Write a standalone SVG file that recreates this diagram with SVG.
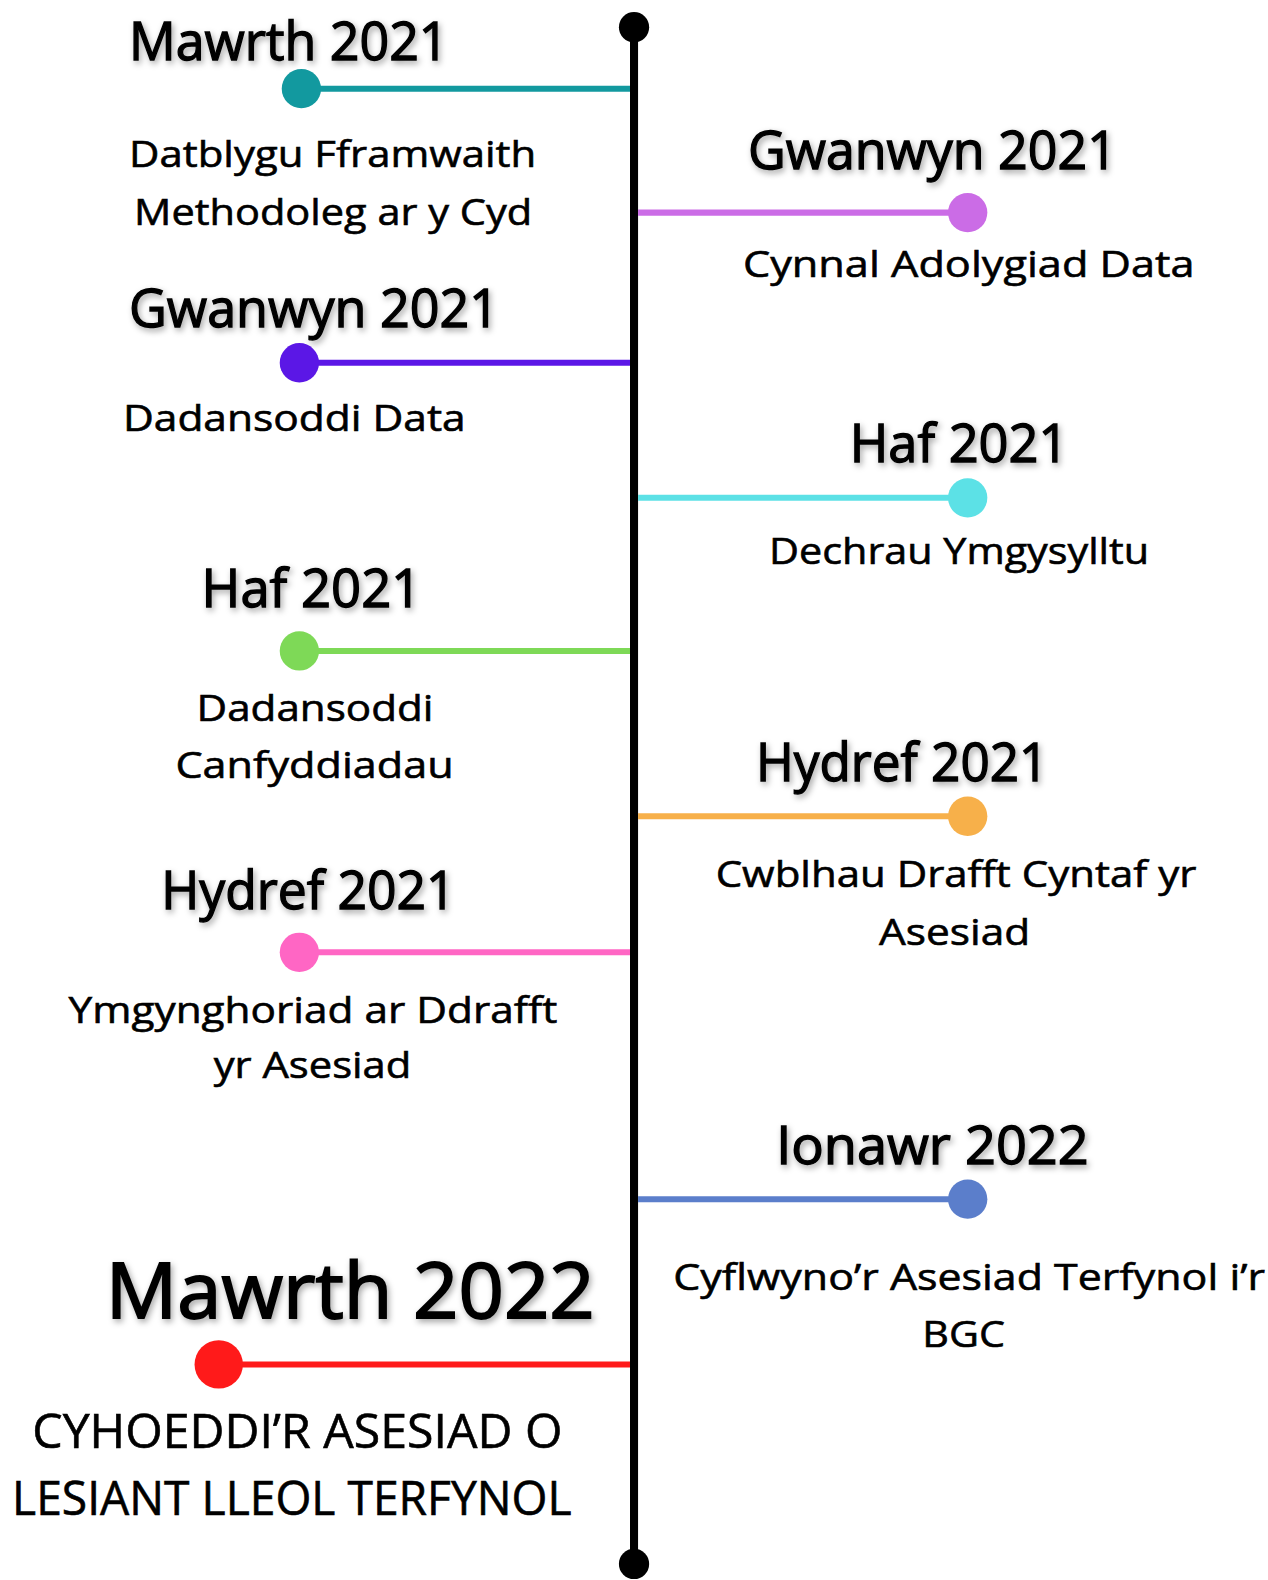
<svg xmlns="http://www.w3.org/2000/svg" width="1268" height="1580" viewBox="0 0 1268 1580">
<defs>
<filter id="sh" x="-10%" y="-30%" width="120%" height="160%">
<feDropShadow dx="2" dy="3" stdDeviation="3" flood-color="#000" flood-opacity="0.35"/>
</filter>
<style>
.h{font-family:"Open Sans","Noto Sans",sans-serif;font-weight:400;font-size:52px;fill:#000;stroke:#000;stroke-width:1.3px;filter:url(#sh)}
.hb{font-size:76px;stroke-width:1.8px}
.d{font-family:"Open Sans","Noto Sans",sans-serif;font-weight:400;font-size:37px;fill:#000;stroke:#000;stroke-width:0.6px}
.c{font-size:48px}
.ln{stroke-width:6;fill:none}
</style>
</defs>
<rect width="1268" height="1580" fill="#fff"/>
<g transform="scale(1.008,1.0077)">
<g id="connectors">
<line x1="629" y1="27" x2="629" y2="1552" stroke="#000" stroke-width="8"/>
<line class="ln" x1="299" y1="88" x2="625" y2="88" stroke="#12999f"/>
<line class="ln" x1="297" y1="360" x2="625" y2="360" stroke="#5b17e6"/>
<line class="ln" x1="297" y1="646" x2="625" y2="646" stroke="#7ed957"/>
<line class="ln" x1="297" y1="945" x2="625" y2="945" stroke="#ff66c4"/>
<line class="ln" x1="217" y1="1354" x2="625" y2="1354" stroke="#ff1a1a" stroke-width="8"/>
<line class="ln" x1="633" y1="211" x2="960" y2="211" stroke="#cb6ce6"/>
<line class="ln" x1="633" y1="494" x2="960" y2="494" stroke="#5ce1e6"/>
<line class="ln" x1="633" y1="810" x2="960" y2="810" stroke="#f7b04a"/>
<line class="ln" x1="633" y1="1190" x2="960" y2="1190" stroke="#5b7ecb"/>
</g>
<g id="start"><circle cx="629" cy="27" r="15" fill="#000"/></g>
<g id="end"><circle cx="629" cy="1552" r="15" fill="#000"/></g>
<g id="mawrth2021">
<circle cx="299" cy="88" r="19.5" fill="#12999f"/>
<text class="h" x="128" y="60" textLength="317" lengthAdjust="spacingAndGlyphs">Mawrth 2021</text>
<text class="d" x="128" y="166" textLength="404" lengthAdjust="spacingAndGlyphs">Datblygu Fframwaith</text>
<text class="d" x="133" y="223" textLength="395" lengthAdjust="spacingAndGlyphs">Methodoleg ar y Cyd</text>
</g>
<g id="gwanwyn2021-right">
<circle cx="960" cy="211" r="19.5" fill="#cb6ce6"/>
<text class="h" x="742" y="168" textLength="366" lengthAdjust="spacingAndGlyphs">Gwanwyn 2021</text>
<text class="d" x="737" y="275" textLength="448" lengthAdjust="spacingAndGlyphs">Cynnal Adolygiad Data</text>
</g>
<g id="gwanwyn2021-left">
<circle cx="297" cy="360" r="19.5" fill="#5b17e6"/>
<text class="h" x="128" y="325" textLength="367" lengthAdjust="spacingAndGlyphs">Gwanwyn 2021</text>
<text class="d" x="122" y="428" textLength="340" lengthAdjust="spacingAndGlyphs">Dadansoddi Data</text>
</g>
<g id="haf2021-right">
<circle cx="960" cy="494" r="19.5" fill="#5ce1e6"/>
<text class="h" x="843" y="458" textLength="217" lengthAdjust="spacingAndGlyphs">Haf 2021</text>
<text class="d" x="763" y="560" textLength="377" lengthAdjust="spacingAndGlyphs">Dechrau Ymgysylltu</text>
</g>
<g id="haf2021-left">
<circle cx="297" cy="646" r="19.5" fill="#7ed957"/>
<text class="h" x="200" y="602" textLength="218" lengthAdjust="spacingAndGlyphs">Haf 2021</text>
<text class="d" x="195" y="715" textLength="235" lengthAdjust="spacingAndGlyphs">Dadansoddi</text>
<text class="d" x="174" y="772" textLength="276" lengthAdjust="spacingAndGlyphs">Canfyddiadau</text>
</g>
<g id="hydref2021-right">
<circle cx="960" cy="810" r="19.5" fill="#f7b04a"/>
<text class="h" x="750" y="775" textLength="290" lengthAdjust="spacingAndGlyphs">Hydref 2021</text>
<text class="d" x="710" y="880" textLength="477" lengthAdjust="spacingAndGlyphs">Cwblhau Drafft Cyntaf yr</text>
<text class="d" x="872" y="938" textLength="150" lengthAdjust="spacingAndGlyphs">Asesiad</text>
</g>
<g id="hydref2021-left">
<circle cx="297" cy="945" r="19.5" fill="#ff66c4"/>
<text class="h" x="160" y="902" textLength="292" lengthAdjust="spacingAndGlyphs">Hydref 2021</text>
<text class="d" x="68" y="1015" textLength="485" lengthAdjust="spacingAndGlyphs">Ymgynghoriad ar Ddrafft</text>
<text class="d" x="212" y="1070" textLength="196" lengthAdjust="spacingAndGlyphs">yr Asesiad</text>
</g>
<g id="ionawr2022">
<circle cx="960" cy="1190" r="19.5" fill="#5b7ecb"/>
<text class="h" x="770" y="1155" textLength="310" lengthAdjust="spacingAndGlyphs">Ionawr 2022</text>
<text class="d" x="668" y="1280" textLength="587" lengthAdjust="spacingAndGlyphs">Cyflwyno’r Asesiad Terfynol i’r</text>
<text class="d" x="915" y="1337" textLength="82" lengthAdjust="spacingAndGlyphs">BGC</text>
</g>
<g id="mawrth2022">
<circle cx="217" cy="1354" r="24" fill="#ff1a1a"/>
<text class="h hb" x="105" y="1308" textLength="485" lengthAdjust="spacingAndGlyphs">Mawrth 2022</text>
<text class="d c" x="32" y="1437" textLength="526" lengthAdjust="spacingAndGlyphs">CYHOEDDI’R ASESIAD O</text>
<text class="d c" x="12" y="1503" textLength="555" lengthAdjust="spacingAndGlyphs">LESIANT LLEOL TERFYNOL</text>
</g>
</g>
</svg>
